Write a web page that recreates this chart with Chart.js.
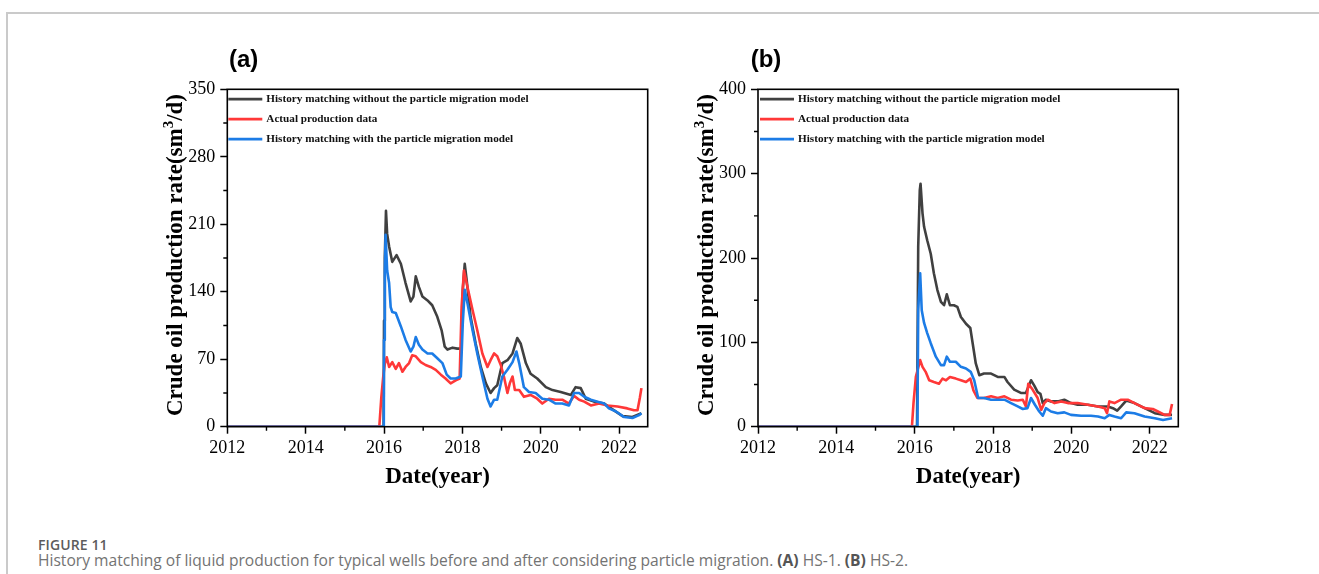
<!DOCTYPE html>
<html>
<head>
<meta charset="utf-8">
<title>History matching of liquid production</title>
<script src="https://cdn.jsdelivr.net/npm/chart.js@4.4.1/dist/chart.umd.min.js"></script>
<style>
  html, body { margin: 0; padding: 0; background: #fff; }
  body { width: 1319px; height: 574px; position: relative; overflow: hidden; }
  #frame { position: absolute; left: 6px; top: 12px; width: 1400px; height: 700px;
           border-left: 2px solid #cacaca; border-top: 2px solid #cacaca; }
  .panel { position: absolute; top: 30px; width: 530px; height: 470px; }
  #panelA { left: 140px; }
  #panelB { left: 670px; }
  .panel canvas { display: block; }
  #figLabel { position: absolute; left: 38px; top: 538px; font: 600 14px/1 "Open Sans", sans-serif;
              color: #5c5c5c; letter-spacing: 0.1px; }
  #caption { position: absolute; left: 38px; top: 553px; font: 400 15.6px/1 "Open Sans", sans-serif;
             color: #737373; white-space: nowrap; }
  #caption b { color: #555; font-weight: 700; }
</style>
</head>
<body>
<div id="frame"></div>
<div class="panel" id="panelA"><canvas id="chartA" width="530" height="470"></canvas></div>
<div class="panel" id="panelB"><canvas id="chartB" width="530" height="470"></canvas></div>
<div id="figLabel">FIGURE 11</div>
<div id="caption">History matching of liquid production for typical wells before and after considering particle migration. <b>(A)</b> HS-1. <b>(B)</b> HS-2.</div>

<script>
// ---- Series labels ----
const seriesLabels = [
  "History matching without the particle migration model",
  "Actual production data",
  "History matching with the particle migration model"
];
const xTicksYears = [2012, 2014, 2016, 2018, 2020, 2022];
const yTicksA = [0, 70, 140, 210, 280, 350];
const yTicksB = [0, 100, 200, 300, 400];

// ---- Well HS-1 (a): time in years, rate in sm3/d ----
const aNoMigT = [2012, 2015.99, 2016.0, 2016.02, 2016.05, 2016.08, 2016.13, 2016.21, 2016.32, 2016.43, 2016.55, 2016.68, 2016.75, 2016.81, 2016.89, 2016.98, 2017.11, 2017.23, 2017.36, 2017.47, 2017.55, 2017.62, 2017.75, 2017.87, 2017.97, 2018.01, 2018.06, 2018.11, 2018.21, 2018.34, 2018.47, 2018.6, 2018.72, 2018.81, 2018.89, 2019.02, 2019.15, 2019.28, 2019.4, 2019.49, 2019.62, 2019.74, 2019.91, 2020.13, 2020.3, 2020.51, 2020.77, 2020.89, 2021.02, 2021.15, 2021.36, 2021.62, 2021.87, 2022.09, 2022.34, 2022.51, 2022.57];
const aNoMigQ = [0, 0, 110, 175, 224, 200, 187, 171, 178, 169, 149, 130, 135, 156, 145, 135, 131, 126, 114, 100, 83, 80, 82, 81, 81, 142, 169, 152, 114, 86, 62, 45, 35, 40, 43, 66, 69, 76, 92, 86, 66, 55, 50, 41, 38, 36, 33, 41, 40, 29, 26, 24, 17, 11, 10, 13, 14];

const aActT = [2012, 2015.88, 2015.93, 2015.98, 2016.02, 2016.07, 2016.13, 2016.21, 2016.3, 2016.38, 2016.47, 2016.55, 2016.64, 2016.72, 2016.81, 2016.94, 2017.06, 2017.19, 2017.32, 2017.45, 2017.57, 2017.7, 2017.83, 2017.93, 2017.98, 2018.04, 2018.13, 2018.26, 2018.38, 2018.51, 2018.64, 2018.72, 2018.81, 2018.89, 2018.98, 2019.06, 2019.15, 2019.21, 2019.28, 2019.34, 2019.45, 2019.57, 2019.74, 2019.91, 2020.04, 2020.21, 2020.38, 2020.55, 2020.72, 2020.85, 2020.98, 2021.11, 2021.28, 2021.49, 2021.7, 2021.96, 2022.21, 2022.38, 2022.47, 2022.53, 2022.57];
const aActQ = [0, 0, 30, 52, 65, 72, 62, 67, 60, 66, 57, 62, 66, 74, 73, 67, 64, 62, 59, 54, 50, 45, 48, 50, 124, 162, 145, 121, 100, 76, 62, 69, 76, 73, 64, 52, 35, 45, 52, 38, 38, 31, 33, 29, 24, 29, 28, 28, 24, 32, 28, 26, 22, 24, 22, 21, 19, 17, 17, 30, 40];

const aMigT = [2012, 2015.995, 2016.0, 2016.02, 2016.04, 2016.08, 2016.13, 2016.17, 2016.21, 2016.3, 2016.43, 2016.55, 2016.68, 2016.75, 2016.81, 2016.89, 2016.98, 2017.11, 2017.23, 2017.36, 2017.49, 2017.6, 2017.7, 2017.83, 2017.96, 2018.01, 2018.06, 2018.13, 2018.26, 2018.38, 2018.51, 2018.64, 2018.72, 2018.81, 2018.89, 2019.02, 2019.15, 2019.28, 2019.38, 2019.45, 2019.57, 2019.7, 2019.87, 2020.04, 2020.21, 2020.38, 2020.55, 2020.72, 2020.85, 2020.98, 2021.11, 2021.28, 2021.45, 2021.62, 2021.74, 2021.91, 2022.13, 2022.34, 2022.51, 2022.57];
const aMigQ = [0, 0, 90, 160, 199, 162, 149, 124, 119, 118, 104, 90, 78, 83, 93, 85, 80, 76, 76, 71, 66, 54, 50, 50, 52, 107, 142, 128, 100, 76, 52, 29, 21, 28, 28, 52, 59, 67, 78, 66, 41, 36, 35, 29, 28, 24, 24, 22, 35, 35, 31, 28, 26, 24, 19, 16, 10, 9, 12, 14];

// ---- Well HS-2 (b) ----
const bNoMigT = [2012, 2016.06, 2016.09, 2016.13, 2016.15, 2016.2, 2016.24, 2016.32, 2016.41, 2016.49, 2016.58, 2016.67, 2016.75, 2016.82, 2016.9, 2017.0, 2017.09, 2017.18, 2017.31, 2017.42, 2017.48, 2017.56, 2017.65, 2017.77, 2017.95, 2018.12, 2018.29, 2018.37, 2018.54, 2018.71, 2018.84, 2018.97, 2019.05, 2019.14, 2019.21, 2019.27, 2019.35, 2019.48, 2019.65, 2019.82, 2019.99, 2020.16, 2020.42, 2020.68, 2020.93, 2021.06, 2021.17, 2021.27, 2021.4, 2021.61, 2021.87, 2022.13, 2022.38, 2022.57];
const bNoMigQ = [0, 0, 213, 280, 288, 253, 237, 221, 205, 182, 162, 148, 144, 157, 144, 144, 142, 130, 122, 117, 99, 75, 61, 63, 63, 59, 59, 53, 44, 40, 40, 55, 49, 41, 39, 28, 32, 30, 30, 32, 28, 26, 26, 24, 24, 22, 19, 24, 31, 28, 22, 16, 14, 14];

const bActT = [2012, 2015.93, 2015.97, 2016.03, 2016.14, 2016.2, 2016.28, 2016.37, 2016.49, 2016.62, 2016.71, 2016.8, 2016.9, 2017.05, 2017.18, 2017.31, 2017.42, 2017.5, 2017.6, 2017.77, 2017.95, 2018.12, 2018.29, 2018.46, 2018.63, 2018.76, 2018.84, 2018.9, 2019.01, 2019.14, 2019.23, 2019.31, 2019.4, 2019.57, 2019.74, 2019.91, 2020.16, 2020.42, 2020.68, 2020.85, 2020.91, 2020.97, 2021.1, 2021.27, 2021.44, 2021.61, 2021.87, 2022.08, 2022.21, 2022.38, 2022.51, 2022.57];
const bActQ = [0, 0, 28, 59, 79, 71, 65, 55, 53, 51, 57, 55, 59, 57, 55, 53, 57, 43, 34, 34, 36, 34, 36, 32, 31, 32, 24, 51, 44, 34, 20, 28, 32, 28, 30, 28, 28, 26, 24, 22, 16, 30, 28, 32, 32, 28, 22, 21, 18, 14, 14, 27];

const bMigT = [2012, 2016.07, 2016.09, 2016.14, 2016.18, 2016.24, 2016.32, 2016.41, 2016.54, 2016.67, 2016.75, 2016.82, 2016.9, 2017.05, 2017.18, 2017.31, 2017.43, 2017.52, 2017.62, 2017.77, 2017.95, 2018.12, 2018.29, 2018.46, 2018.63, 2018.76, 2018.88, 2018.97, 2019.07, 2019.18, 2019.27, 2019.35, 2019.48, 2019.65, 2019.82, 2019.99, 2020.25, 2020.5, 2020.68, 2020.85, 2020.97, 2021.1, 2021.27, 2021.4, 2021.61, 2021.87, 2022.13, 2022.34, 2022.57];
const bMigQ = [0, 0, 138, 182, 138, 123, 111, 99, 83, 73, 73, 83, 77, 77, 71, 69, 65, 55, 34, 34, 32, 32, 32, 28, 24, 21, 22, 34, 26, 18, 13, 22, 18, 16, 17, 14, 13, 13, 12, 10, 14, 12, 10, 17, 16, 12, 10, 8, 10];

// ---- Styling ----
const lineColors = ["#404040", "#ff3838", "#1c7ce6"];
const serif = '"Liberation Serif", "Times New Roman", serif';
const sans = '"Liberation Sans", Arial, sans-serif';
const yTitleMain = "Crude oil production rate(sm";
const yTitleSup = "3";
const yTitleEnd = "/d)";
const xTitle = "Date(year)";

// Frame, minor ticks, axis titles, panel letter and in-plot legend
const decor = {
  id: "decor",
  afterDraw(chart, args, o) {
    const ctx = chart.ctx, ca = chart.chartArea;
    const xs = chart.scales.x, ys = chart.scales.y;
    ctx.save();
    // plot frame
    ctx.strokeStyle = "#000";
    ctx.lineWidth = 1.6;
    ctx.strokeRect(ca.left, ca.top, ca.right - ca.left, ca.bottom - ca.top);
    // minor ticks
    ctx.lineWidth = 1.4;
    ctx.beginPath();
    for (let v = xs.min + 1; v < xs.max; v += 2) {
      const px = xs.getPixelForValue(v);
      ctx.moveTo(px, ca.bottom); ctx.lineTo(px, ca.bottom + 4);
    }
    for (let v = o.yStep / 2; v < ys.max; v += o.yStep) {
      const py = ys.getPixelForValue(v);
      ctx.moveTo(ca.left, py); ctx.lineTo(ca.left - 4, py);
    }
    ctx.stroke();

    // y-axis title with superscript
    ctx.fillStyle = "#000";
    const mainFont = "bold 23px " + serif, supFont = "bold 15px " + serif;
    ctx.font = mainFont; const w1 = ctx.measureText(yTitleMain).width;
    const w3 = ctx.measureText(yTitleEnd).width;
    ctx.font = supFont; const w2 = ctx.measureText(yTitleSup).width;
    const total = w1 + w2 + w3;
    ctx.translate(ca.left + o.yTitleDx, (ca.top + ca.bottom) / 2 + o.yTitleDy);
    ctx.rotate(-Math.PI / 2);
    ctx.textBaseline = "alphabetic"; ctx.textAlign = "left";
    let x0 = -total / 2;
    ctx.font = mainFont; ctx.fillText(yTitleMain, x0, 8);
    ctx.font = supFont; ctx.fillText(yTitleSup, x0 + w1, -1);
    ctx.font = mainFont; ctx.fillText(yTitleEnd, x0 + w1 + w2, 8);
    ctx.setTransform(1, 0, 0, 1, 0, 0);

    // x-axis title
    ctx.font = "bold 23px " + serif;
    ctx.textAlign = "center"; ctx.textBaseline = "alphabetic";
    ctx.fillText(xTitle, (ca.left + ca.right) / 2, ca.bottom + 56.5);

    // panel letter
    ctx.font = "bold 24px " + sans;
    ctx.textAlign = "left";
    ctx.fillText(o.letter, ca.left + o.letterDx, ca.top - 22.3);

    // legend
    chart.data.datasets.forEach((ds, i) => {
      const y = ca.top + o.legendDy + i * 20;
      ctx.strokeStyle = ds.borderColor; ctx.lineWidth = 2.6;
      ctx.beginPath();
      ctx.moveTo(ca.left + o.legendDx, y); ctx.lineTo(ca.left + o.legendDx + 34, y);
      ctx.stroke();
      ctx.fillStyle = "#111";
      ctx.font = "bold 11.2px " + serif;
      ctx.textBaseline = "middle";
      ctx.fillText(ds.label, ca.left + o.legendDx + 38, y + 0.5);
    });
    ctx.restore();
  }
};

function makeChart(id, series, yTicks, opt) {
  const yStep = yTicks[1] - yTicks[0];
  return new Chart(document.getElementById(id), {
    type: "line",
    data: {
      datasets: series.map((s, i) => ({
        label: seriesLabels[i],
        data: s.t.map((t, k) => ({ x: t, y: s.q[k] })),
        borderColor: lineColors[i],
        borderWidth: 2.6,
        pointRadius: 0,
        tension: 0,
        fill: false,
        borderJoinStyle: "round",
        order: 3 - i
      }))
    },
    options: {
      responsive: false,
      animation: false,
      events: [],
      layout: { padding: { left: 0, top: opt.padTop, right: opt.padRight, bottom: 0 } },
      plugins: {
        legend: { display: false },
        tooltip: { enabled: false },
        decor: { yStep: yStep, letter: opt.letter, letterDx: opt.letterDx, legendDx: opt.legendDx,
                 legendDy: 9.8, yTitleDx: -53.5, yTitleDy: -3 }
      },
      scales: {
        x: {
          type: "linear",
          min: xTicksYears[0],
          max: 2022.73,
          afterFit: s => { s.height = opt.xAxisH; },
          ticks: { stepSize: 2, includeBounds: false, autoSkip: false, maxRotation: 0,
                   callback: v => String(v), color: "#000", padding: 4,
                   font: { family: serif, size: 18 } },
          grid: { drawOnChartArea: false, tickLength: 7, tickColor: "#000", tickWidth: 1.5 },
          border: { display: false }
        },
        y: {
          min: yTicks[0],
          max: yTicks[yTicks.length - 1],
          afterFit: s => { s.width = opt.yAxisW; },
          ticks: { stepSize: yStep, autoSkip: false, color: "#000", padding: 5,
                   font: { family: serif, size: 18 } },
          grid: { drawOnChartArea: false, tickLength: 7, tickColor: "#000", tickWidth: 1.5 },
          border: { display: false }
        }
      }
    },
    plugins: [decor]
  });
}

makeChart("chartA", [
  { t: aNoMigT, q: aNoMigQ },
  { t: aActT, q: aActQ },
  { t: aMigT, q: aMigQ }
], yTicksA, { padTop: 59.3, padRight: 22.3, yAxisW: 87.3, xAxisH: 73.3, letter: "(a)", letterDx: 1.7, legendDx: 1 });

makeChart("chartB", [
  { t: bNoMigT, q: bNoMigQ },
  { t: bActT, q: bActQ },
  { t: bMigT, q: bMigQ }
], yTicksB, { padTop: 59.3, padRight: 21.7, yAxisW: 88, xAxisH: 73.3, letter: "(b)", letterDx: -7.3, legendDx: 2 });
</script>
</body>
</html>
